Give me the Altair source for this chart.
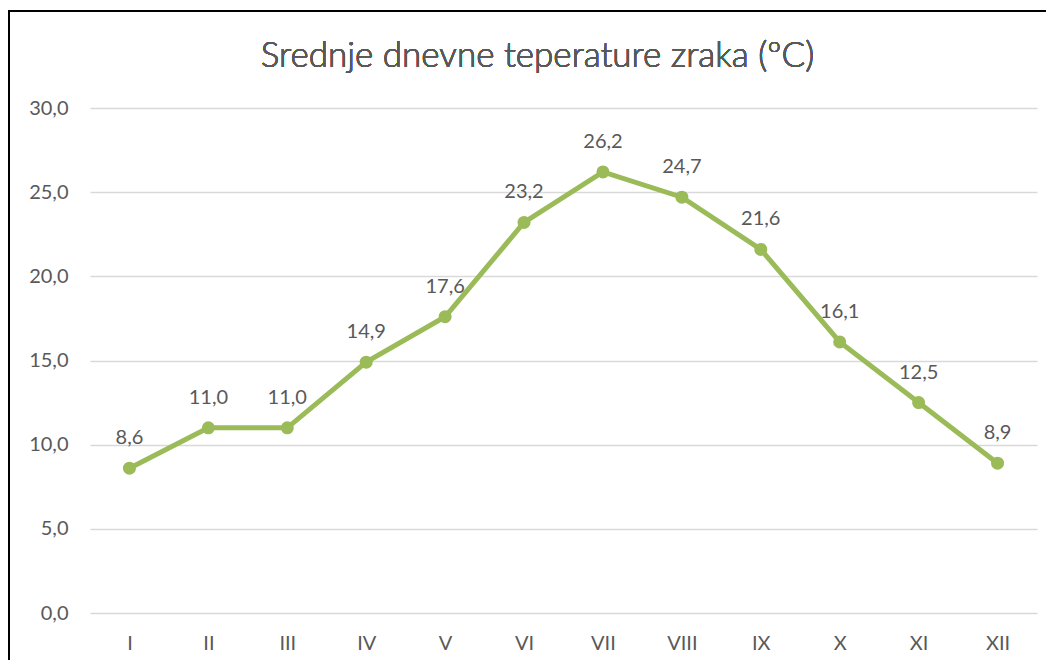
import altair as alt
import pandas as pd

months = ["I", "II", "III", "IV", "V", "VI", "VII", "VIII", "IX", "X", "XI", "XII"]
temps = [8.6, 11.0, 11.0, 14.9, 17.6, 23.2, 26.2, 24.7, 21.6, 16.1, 12.5, 8.9]
title_text = "Srednje dnevne teperature zraka (ºC)"

df = pd.DataFrame({"mjesec": months, "temp": temps})

FONT = "Lato"
GREEN = "#9BBB59"
GREY = "#595959"

W, H = 947, 505

x = alt.X("mjesec:N", sort=months, title=None,
          axis=alt.Axis(labelAngle=0, ticks=False, domain=False, grid=False,
                        labelFontSize=20, labelColor=GREY, labelFont=FONT, labelPadding=20))
y = alt.Y("temp:Q", title=None,
          scale=alt.Scale(domain=[0, 30], nice=False),
          axis=alt.Axis(values=[0, 5, 10, 15, 20, 25, 30], ticks=False, domain=False,
                        gridColor="#D9D9D9", gridWidth=1.5,
                        labelExpr="replace(format(datum.value, '.1f'), '.', ',')",
                        labelFontSize=20, labelColor=GREY, labelFont=FONT, labelPadding=22))

base = alt.Chart(df)

line = base.mark_line(color=GREEN, strokeWidth=5).encode(x=x, y=y)
pts = base.mark_point(filled=True, color=GREEN, size=170, opacity=1).encode(x=x, y=y)
labels = base.transform_calculate(
    lab="replace(format(datum.temp, '.1f'), '.', ',')"
).mark_text(dy=-24, baseline="alphabetic", fontSize=20, font=FONT, color=GREY,
            fontWeight="normal").encode(x=x, y=y, text="lab:N")

title = alt.Chart(df).mark_text(fontSize=35, font=FONT, color=GREY, baseline="middle",
                                fontWeight=300).encode(
    x=alt.value(W / 2 - 26), y=alt.value(56 - 108), text=alt.value(title_text))

border = alt.Chart(df).mark_rect(fill=None, stroke="black", strokeWidth=2).encode(
    x=alt.value(-81), x2=alt.value(W + 40), y=alt.value(-97), y2=alt.value(H + 80))

chart = alt.layer(border, line, pts, labels, title).properties(
    width=W, height=H,
    background="white",
    autosize=alt.AutoSizeParams(type="none"),
    padding={"left": 82, "top": 100, "right": 9, "bottom": 47},
).configure_view(stroke=None)

chart.save("out.html", embed_options={"renderer": "svg", "actions": False})
